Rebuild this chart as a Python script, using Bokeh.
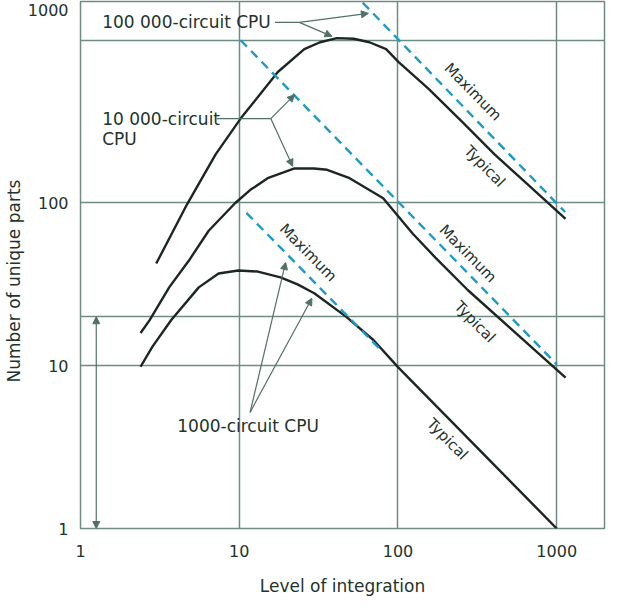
import math
from bokeh.plotting import figure
from bokeh.models import FixedTicker, Arrow, NormalHead, NumeralTickFormatter, Title
from bokeh.core.properties import value
from bokeh.embed import file_html
from bokeh.resources import INLINE

# ---------------- data ----------------
x_ticks = [1, 10, 100, 1000]
y_ticks = [1, 10, 100, 1540]          # the reference prints its "1000" label at the frame top
y_tick_labels = {1540: "1000"}
x_grid = [10, 100, 1000]
y_grid = [10, 20, 100, 1000]

# typical curves
typ_100k_x = [3.0, 4.7, 7.1, 10.2, 17.5, 25.7, 32.3, 41.2, 52.6, 66.1, 84.2, 101, 156, 253, 406, 651, 1137]
typ_100k_y = [42.5, 98.5, 199, 330, 638, 881, 972, 1030, 1021, 972, 881, 734, 503, 316, 199, 131, 80]

typ_10k_x = [2.39, 2.72, 3.62, 4.82, 6.42, 9.44, 11.7, 15.1, 22.3, 29.6, 35.8, 49.6, 80.7, 124, 172, 276, 1137]
typ_10k_y = [15.9, 19.0, 30.3, 44.3, 67.5, 100, 120, 142, 163, 163, 160, 142, 107, 64.7, 46.2, 29.1, 8.45]

typ_1k_x = [2.39, 2.84, 3.73, 5.56, 7.41, 9.86, 13.1, 18.2, 23.3, 29.7, 47.5, 70, 100, 1000]
typ_1k_y = [9.86, 13.1, 19.1, 30.3, 36.9, 38.5, 37.9, 34.9, 31.6, 27.9, 19.9, 14.4, 9.8, 1.0]

# maximum (dashed) lines
max_100k_x = [60, 1130]
max_100k_y = [1700, 88]
max_10k_x = [10.2, 1000]
max_10k_y = [1000, 10.2]
max_1k_x = [11.1, 76]
max_1k_y = [87, 12.8]

# ---------------- styling ----------------
FONT = "DejaVu Sans"
TXT = "#22332d"
GRID = "#6f8c83"
CURVE = "#1c2622"
DASH = "#1e9bc4"
LEAD = "#52706a"

p = figure(width=606, height=598, x_axis_type="log", y_axis_type="log",
           x_range=(1, 2000), y_range=(1, 1730),
           output_backend="svg", toolbar_location=None,
           min_border_left=72, min_border_top=1, min_border_right=2, min_border_bottom=66)

p.background_fill_color = "white"
p.border_fill_color = "white"
p.outline_line_color = GRID
p.outline_line_width = 1.5

p.xgrid.ticker = FixedTicker(ticks=x_grid)
p.ygrid.ticker = FixedTicker(ticks=y_grid)
for g in (p.xgrid, p.ygrid):
    g.grid_line_color = GRID
    g.grid_line_width = 1.5

p.xaxis.ticker = FixedTicker(ticks=x_ticks)
p.yaxis.ticker = FixedTicker(ticks=y_ticks)
p.xaxis.formatter = NumeralTickFormatter(format="0")
p.yaxis.formatter = NumeralTickFormatter(format="0")
p.yaxis.major_label_overrides = y_tick_labels
for ax in (p.xaxis, p.yaxis):
    ax.axis_line_color = None
    ax.major_tick_line_color = None
    ax.minor_tick_line_color = None
    ax.major_label_text_font = FONT
    ax.major_label_text_font_size = "16px"
    ax.major_label_text_color = TXT
    ax.axis_label_text_font = FONT
    ax.axis_label_text_font_size = "17px"
    ax.axis_label_text_font_style = "normal"
    ax.axis_label_text_color = TXT
p.xaxis.axis_label = "Level of integration"
p.xaxis.major_label_standoff = 10
p.xaxis.axis_label_standoff = 16
p.yaxis.major_label_standoff = 6

# y-axis title, placed a little below the frame centre as in the reference
ytitle = Title(text="Number of unique parts", align="left", offset=146, standoff=2,
               text_font=FONT, text_font_size="17px", text_font_style="normal",
               text_color=TXT)
p.add_layout(ytitle, "left")

# curves
for xs, ys in ((typ_100k_x, typ_100k_y), (typ_10k_x, typ_10k_y), (typ_1k_x, typ_1k_y)):
    p.line(xs, ys, line_color=CURVE, line_width=2.4, line_join="round")
for xs, ys in ((max_100k_x, max_100k_y), (max_10k_x, max_10k_y), (max_1k_x, max_1k_y)):
    p.line(xs, ys, line_color=DASH, line_width=2.4, line_dash="9 6")

# rotated labels
ang = -math.atan(164 / 161)
rot_x = [297, 352, 276, 305, 27.2, 205]
rot_y = [482, 168, 48.9, 18.6, 49.6, 3.54]
rot_t = ["Maximum", "Typical", "Maximum", "Typical", "Maximum", "Typical"]
p.text(x=rot_x, y=rot_y, text=rot_t, angle=ang, text_align="center", text_baseline="middle",
       text_font=value(FONT), text_font_size="15px", text_color=TXT)

# annotation texts
p.text(x=[1.37, 1.37, 1.37, 4.07], y=[1288, 330, 246, 4.25],
       text=["100 000-circuit CPU", "10 000-circuit", "CPU", "1000-circuit CPU"],
       text_align="left", text_baseline="middle",
       text_font=value(FONT), text_font_size="17px", text_color=TXT)

# leader segments (no head)
p.segment(x0=[16.8, 7.2], y0=[1288, 330], x1=[23.9, 15.8], y1=[1288, 330],
          line_color=LEAD, line_width=1.2)

def arrow(x0, y0, x1, y1, start=False):
    head = NormalHead(size=7, fill_color=LEAD, line_color=LEAD, line_width=1)
    a = Arrow(x_start=x0, y_start=y0, x_end=x1, y_end=y1, end=head,
              line_color=LEAD, line_width=1.2)
    if start:
        a.start = NormalHead(size=7, fill_color=LEAD, line_color=LEAD, line_width=1)
    p.add_layout(a)

arrow(23.9, 1288, 65.1, 1462)
arrow(23.9, 1288, 38.4, 1057)
arrow(15.8, 330, 22.3, 462)
arrow(15.8, 330, 21.7, 168)
arrow(11.7, 5.17, 19.6, 43.1)
arrow(11.7, 5.17, 28.7, 26.0)
arrow(1.257, 1.0, 1.257, 20, start=True)

with open("out.html", "w") as f:
    f.write(file_html(p, INLINE))
